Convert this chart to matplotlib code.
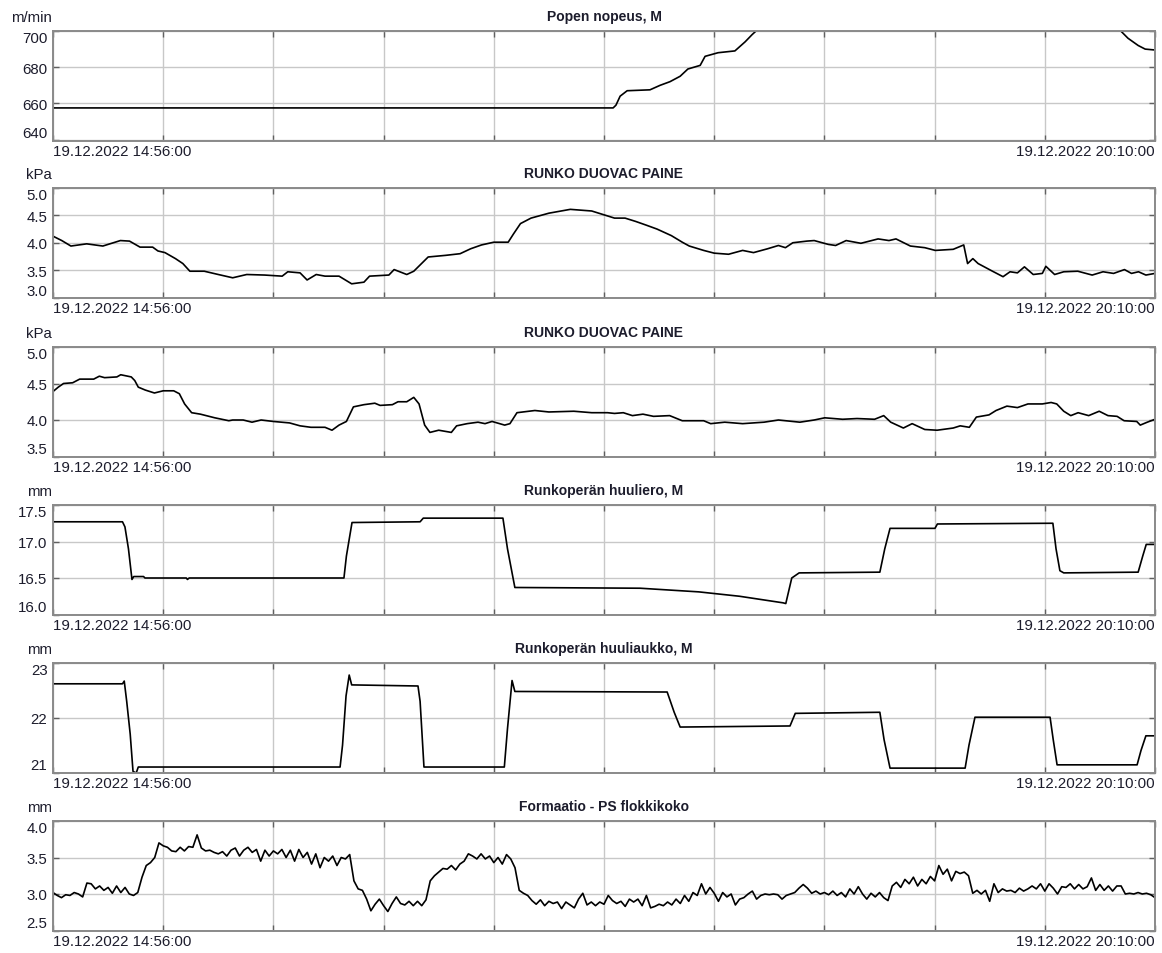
import numpy as np
import matplotlib
matplotlib.use("Agg")
import matplotlib.pyplot as plt

plt.rcParams['font.family'] = ['Liberation Sans', 'DejaVu Sans']

# time axis in minutes after 19.12.2022 14:56:00 (end 20:10:00 = 314 min)
start_label = "19.12.2022 14:56:00"
end_label = "19.12.2022 20:10:00"
t_end = 314.0

# Popen nopeus, M  (m/min)
speed_t = [0, 159.6, 160.4, 161.6, 163.6, 170.1, 173.0, 175.8, 178.7, 180.9, 184.4,
           185.8, 189.5, 194.3, 197.2, 199.2, 200.6, 202.9, 298.3, 304.0, 306.3,
           309.2, 311.2, 314]
speed_v = [657.5, 657.5, 659, 664, 667, 667.5, 670, 672, 675, 679, 681,
           686, 688, 689, 694, 698, 700.5, 704, 704, 700.5, 696,
           692, 690, 689.5]

# RUNKO DUOVAC PAINE (kPa), first
duo1_t = [0, 2.5, 5.1, 9.6, 14.2, 19.2, 21.8, 24.8, 28.4, 29.9, 31.9, 34.9, 37.0, 39.0,
          43.1, 47.1, 51.2, 55.2, 60.3, 65.3, 66.9, 70.4, 72.4, 75.0, 77.5, 81.5, 85.1,
          88.6, 90.2, 95.7, 97.2, 100.8, 102.8, 106.9, 111.9, 116.0, 119.0, 122.1, 125.6,
          129.7, 131.2, 133.2, 136.2, 141.3, 147.4, 153.5, 157.5,
          160.0, 163.0, 166.0, 169.1, 172.1, 176.2, 179.3, 181.3, 185.4, 188.4, 192.5,
          196.5, 199.6, 203.6, 206.7, 208.7, 210.8, 214.8, 216.9, 220.9, 223.0, 226.0,
          230.2, 235.1, 238.2, 240.2, 244.3, 248.4, 251.4, 256.5, 259.5, 260.6, 262.1,
          263.6, 267.7, 270.7, 272.7, 274.8, 276.8, 279.3, 281.9, 282.9, 285.4, 288.0,
          292.0, 296.1, 299.2, 302.2, 305.3, 307.3, 309.3, 311.4, 314.0]
duo1_v = [4.12, 4.04, 3.94, 3.98, 3.94, 4.04, 4.03, 3.92, 3.92, 3.85, 3.82, 3.71, 3.62, 3.48,
          3.48, 3.42, 3.36, 3.42, 3.41, 3.39, 3.47, 3.45, 3.32, 3.42, 3.39, 3.39, 3.25,
          3.28, 3.39, 3.41, 3.51, 3.42, 3.48, 3.74, 3.77, 3.80, 3.89, 3.96, 4.01,
          4.01, 4.16, 4.35, 4.45, 4.54, 4.61, 4.58, 4.50,
          4.45, 4.45, 4.39, 4.32, 4.25, 4.13, 4.01, 3.94, 3.86, 3.81, 3.79,
          3.86, 3.82, 3.89, 3.95, 3.91, 4.00, 4.03, 4.04, 3.97, 3.95, 4.04,
          3.99, 4.07, 4.04, 4.07, 3.94, 3.91, 3.86, 3.88, 3.96, 3.62, 3.71,
          3.62, 3.48, 3.38, 3.47, 3.45, 3.56, 3.42, 3.44, 3.57, 3.42, 3.47,
          3.48, 3.41, 3.47, 3.44, 3.51, 3.44, 3.47, 3.41, 3.44]

# RUNKO DUOVAC PAINE (kPa), second
duo2_t = [0, 1.5, 3.0, 5.6, 7.6, 11.6, 13.2, 14.7, 18.2, 19.3, 22.3, 23.3, 24.3, 26.3,
          28.9, 31.4, 34.4, 36.0, 37.5, 39.5, 42.0, 46.1, 50.1, 51.2, 54.2, 56.7, 59.3,
          62.8, 67.4, 70.4, 73.5, 77.5, 79.5, 81.5, 83.6, 85.6, 88.6, 91.7, 93.2, 96.7,
          98.3, 100.8, 102.8, 104.3, 105.9, 107.4, 109.9, 113.5, 115.0, 118.0, 121.1,
          123.1, 125.1, 128.7, 130.2, 132.2, 137.3, 141.3, 148.4, 153.5, 158.0,
          160.0, 162.5, 165.1, 168.1, 171.1, 175.7, 179.3, 185.4, 187.4, 191.4, 196.5,
          202.6, 206.7, 212.8, 216.9, 219.9, 225.0, 229.1, 234.1, 236.7, 238.7, 242.3,
          244.8, 248.4, 251.9, 256.5, 258.5, 261.1, 263.1, 266.7, 268.7, 271.8, 274.8,
          277.8, 281.9, 284.4, 286.0, 288.0, 290.0, 292.1, 295.1, 298.1, 300.6, 303.2,
          305.2, 308.8, 309.8, 311.8, 314.0]
duo2_v = [4.39, 4.45, 4.50, 4.51, 4.56, 4.56, 4.60, 4.58, 4.59, 4.62, 4.59, 4.54, 4.45, 4.41,
          4.37, 4.40, 4.40, 4.36, 4.22, 4.10, 4.08, 4.03, 3.99, 4.00, 4.00, 3.97, 4.00,
          3.98, 3.96, 3.92, 3.90, 3.90, 3.86, 3.93, 3.98, 4.18, 4.21, 4.23, 4.20, 4.21,
          4.25, 4.25, 4.31, 4.22, 3.93, 3.83, 3.86, 3.83, 3.92, 3.95, 3.97,
          3.95, 3.98, 3.93, 3.95, 4.10, 4.13, 4.11, 4.12, 4.10, 4.10,
          4.09, 4.10, 4.06, 4.08, 4.05, 4.06, 3.99, 3.99, 3.95, 3.97, 3.95,
          3.97, 4.00, 3.97, 4.00, 4.03, 4.01, 4.02, 4.01, 4.06, 3.97, 3.89,
          3.95, 3.87, 3.86, 3.89, 3.92, 3.90, 4.04, 4.07, 4.13, 4.19, 4.17,
          4.22, 4.22, 4.24, 4.22, 4.12, 4.06, 4.10, 4.06, 4.12, 4.06, 4.05,
          3.99, 3.98, 3.93, 3.97, 4.01]

# Runkoperän huuliero, M (mm)
lipdiff_t = [0, 19.8, 20.5, 21.5, 22.5, 23.0, 25.8, 26.2, 38.0, 38.3, 38.8, 82.9, 83.6,
             85.2, 104.6, 105.5, 128.2, 129.5, 131.6, 167.3, 184.0, 195.6, 208.0, 208.8,
             210.5, 212.6, 235.6, 237.0, 238.5, 251.3, 252.0, 284.9, 285.8, 286.9, 288.0,
             309.2, 310.5, 311.5, 314.0]
lipdiff_v = [17.27, 17.27, 17.2, 16.9, 16.48, 16.52, 16.52, 16.5, 16.5, 16.48, 16.5, 16.5, 16.8,
             17.26, 17.27, 17.32, 17.32, 16.9, 16.37, 16.36, 16.31, 16.25, 16.16, 16.15,
             16.5, 16.57, 16.58, 16.9, 17.18, 17.18, 17.24, 17.25, 16.9, 16.6, 16.57,
             16.58, 16.8, 16.96, 16.96]

# Runkoperän huuliaukko, M (mm)
lipgap_t = [0, 19.8, 20.3, 21.0, 22.0, 22.8, 23.7, 24.3, 81.8, 82.5, 83.5, 84.4, 85.1,
            104.0, 104.6, 105.7, 128.6, 129.5, 130.8, 131.6, 175.0, 177.0, 178.7, 210.0,
            211.5, 235.6, 236.8, 238.5, 259.9, 261.0, 262.7, 284.1, 285.0, 286.1, 308.9,
            310.0, 311.4, 314.0]
lipgap_v = [22.62, 22.62, 22.67, 22.3, 21.7, 21.02, 20.99, 21.1, 21.1, 21.5, 22.4, 22.78, 22.6,
            22.58, 22.3, 21.1, 21.1, 21.8, 22.68, 22.48, 22.47, 22.1, 21.83, 21.85,
            22.08, 22.1, 21.6, 21.08, 21.08, 21.5, 22.01, 22.01, 21.6, 21.14, 21.14,
            21.4, 21.67, 21.67]

# Formaatio - PS flokkikoko (mm), evenly sampled
floc_v = [3.02, 2.98, 2.95, 2.99, 2.98, 3.02, 3.00, 2.96, 3.15, 3.14, 3.07, 3.11, 3.05, 3.09,
          3.01, 3.11, 3.02, 3.09, 3.00, 2.98, 3.02, 3.23, 3.39, 3.43, 3.50, 3.70, 3.66, 3.64,
          3.59, 3.58, 3.64, 3.59, 3.65, 3.64, 3.81, 3.63, 3.59, 3.60, 3.57, 3.55, 3.58, 3.52,
          3.60, 3.63, 3.52, 3.60, 3.64, 3.57, 3.61, 3.45, 3.60, 3.52, 3.59, 3.55, 3.61, 3.50,
          3.60, 3.45, 3.61, 3.50, 3.57, 3.41, 3.55, 3.36, 3.50, 3.45, 3.52, 3.39, 3.50, 3.48,
          3.54, 3.18, 3.07, 3.05, 2.93, 2.77, 2.86, 2.93, 2.84, 2.76, 2.87, 2.96, 2.87, 2.85,
          2.90, 2.84, 2.90, 2.84, 2.92, 3.18, 3.25, 3.30, 3.35, 3.34, 3.39, 3.33, 3.41, 3.45,
          3.55, 3.52, 3.48, 3.55, 3.48, 3.52, 3.43, 3.50, 3.41, 3.54, 3.48, 3.36, 3.05, 3.01,
          2.98, 2.91, 2.86, 2.92, 2.84, 2.90, 2.87, 2.89, 2.80, 2.89, 2.85, 2.81, 2.93, 3.01,
          2.85, 2.89, 2.84, 2.89, 2.86, 2.98, 2.91, 2.87, 2.90, 2.83, 2.93, 2.89, 2.93, 2.84,
          2.98, 2.81, 2.83, 2.86, 2.84, 2.89, 2.85, 2.93, 2.87, 2.98, 2.90, 3.02, 2.98, 3.14,
          3.00, 3.09, 3.01, 2.90, 3.02, 2.96, 3.00, 2.85, 2.93, 2.95, 3.00, 3.04, 2.93, 2.98,
          3.00, 2.99, 3.00, 2.99, 2.93, 2.98, 3.00, 3.02, 3.08, 3.13, 3.08, 3.01, 3.04, 3.00,
          3.02, 2.99, 3.04, 2.98, 3.02, 2.96, 3.07, 3.00, 3.10, 3.00, 2.93, 3.01, 2.96, 3.02,
          2.95, 2.91, 3.11, 3.16, 3.09, 3.20, 3.14, 3.23, 3.11, 3.20, 3.14, 3.24, 3.18, 3.39,
          3.27, 3.34, 3.18, 3.31, 3.28, 3.30, 3.25, 3.01, 3.05, 3.00, 3.05, 2.90, 3.14, 3.02,
          3.07, 3.04, 3.05, 3.02, 3.08, 3.04, 3.07, 3.11, 3.07, 3.14, 3.04, 3.14, 3.08, 3.00,
          3.10, 3.09, 3.14, 3.07, 3.13, 3.07, 3.10, 3.22, 3.05, 3.13, 3.05, 3.11, 3.04, 3.11,
          3.11, 3.00, 3.01, 3.00, 3.02, 3.00, 3.01, 2.99, 2.95]
floc_t = np.linspace(0, t_end, len(floc_v))

panels = [
    ("Popen nopeus, M", "m/min", speed_t, speed_v, (639.5, 700), [640, 660, 680, 700], "{:.0f}"),
    ("RUNKO DUOVAC PAINE", "kPa", duo1_t, duo1_v, (3.0, 5.0), [3.0, 3.5, 4.0, 4.5, 5.0], "{:.1f}"),
    ("RUNKO DUOVAC PAINE", "kPa", duo2_t, duo2_v, (3.5, 5.0), [3.5, 4.0, 4.5, 5.0], "{:.1f}"),
    ("Runkoperän huuliero, M", "mm", lipdiff_t, lipdiff_v, (16.0, 17.5), [16.0, 16.5, 17.0, 17.5], "{:.1f}"),
    ("Runkoperän huuliaukko, M", "mm", lipgap_t, lipgap_v, (21.0, 23.0), [21, 22, 23], "{:.0f}"),
    ("Formaatio - PS flokkikoko", "mm", floc_t, floc_v, (2.5, 4.0), [2.5, 3.0, 3.5, 4.0], "{:.1f}"),
]

W, H = 1162, 954
fig = plt.figure(figsize=(W / 100, H / 100), dpi=100)
fig.patch.set_facecolor("white")

tops = [32, 189, 348, 506, 664, 822]
ax_h = 109.5
left_px, right_px = 53, 1155
txt_col = "#1c1c2c"
fs = 10.8

for (title, unit, t, v, ylim, yticks, fmt), top in zip(panels, tops):
    ax = fig.add_axes([left_px / W, 1 - (top + ax_h) / H, (right_px - left_px) / W, ax_h / H])
    ax.plot(t, v, color="black", lw=1.2)
    ax.set_xlim(0, t_end)
    ax.set_ylim(*ylim)
    ax.set_xticks(np.linspace(0, t_end, 11))
    ax.set_xticklabels([])
    ax.set_yticks(yticks)
    labels = ax.set_yticklabels([fmt.format(y) for y in yticks], fontsize=fs, color=txt_col)
    # end labels are kept inside the frame height
    labels[0].set_verticalalignment("bottom")
    labels[-1].set_verticalalignment("top")
    ax.grid(True, color="#c8c8c8", lw=1.0)
    ax.tick_params(direction="in", length=4, width=1, color="#606060",
                   top=True, right=True, pad=4)
    for s in ax.spines.values():
        s.set_color("#8a8a8a")
        s.set_linewidth(1.4)
    ax.set_title(title, fontsize=10, fontweight="bold", color=txt_col, pad=8)
    ax.text(-0.001, 1.06, unit, transform=ax.transAxes, ha="right", va="bottom",
            fontsize=fs, color=txt_col)
    ax.text(0, -0.035, start_label, transform=ax.transAxes, ha="left", va="top",
            fontsize=fs, color=txt_col)
    ax.text(1, -0.035, end_label, transform=ax.transAxes, ha="right", va="top",
            fontsize=fs, color=txt_col)

fig.savefig("out.png", dpi=100, facecolor="white")
